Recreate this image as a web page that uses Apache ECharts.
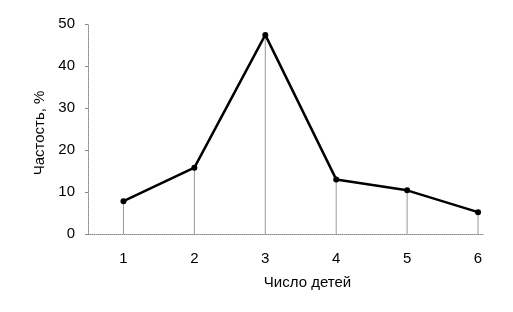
<!DOCTYPE html>
<html><head><meta charset="utf-8">
<script src="https://cdn.jsdelivr.net/npm/echarts@6/dist/echarts.min.js"></script>
<style>html,body{margin:0;padding:0;background:#fff}#c{width:513px;height:312px}</style>
</head><body><div id="c"></div>
<script>
const categories = [1, 2, 3, 4, 5, 6];
const frequency = [7.8, 15.8, 47.4, 13.0, 10.4, 5.2];
const yTicks = [0, 10, 20, 30, 40, 50];

const pts = categories.map((c, i) => [c, frequency[i]]);
const font = 'Liberation Sans, Arial, sans-serif';
const chart = echarts.init(document.getElementById('c'));
chart.setOption({
  animation: false,
  grid: {left: 88, right: 30, top: 24, bottom: 78},
  xAxis: {
    type: 'value', min: 0.5, max: 6.07, interval: 0.5,
    name: 'Число детей', nameLocation: 'middle', nameGap: 41,
    nameTextStyle: {color: '#000', fontFamily: font, fontSize: 15, padding: [0, 0, 0, 44]},
    axisLine: {show: true, lineStyle: {color: '#888', type: 'dotted', width: 1}},
    axisTick: {show: false},
    splitLine: {show: false},
    axisLabel: {color: '#000', fontFamily: font, fontSize: 15, margin: 17, showMinLabel: true, showMaxLabel: false,
      formatter: v => categories.includes(v) ? String(v) : ''}
  },
  yAxis: {
    type: 'value', min: yTicks[0], max: yTicks[yTicks.length - 1], interval: 10,
    name: 'Частость, %', nameLocation: 'middle', nameGap: 34,
    nameTextStyle: {color: '#000', fontFamily: font, fontSize: 15, padding: [0, 8, 0, 0]},
    axisLine: {show: true, lineStyle: {color: '#888', type: 'dotted', width: 1}},
    axisTick: {show: true, length: 3, lineStyle: {color: '#888'}},
    splitLine: {show: false},
    axisLabel: {color: '#000', fontFamily: font, fontSize: 15, margin: 13}
  },
  series: [
    {type: 'bar', data: pts, barWidth: 1, itemStyle: {color: '#999'}, z: 1},
    {type: 'line', data: pts, symbol: 'circle', symbolSize: 6,
     lineStyle: {color: '#000', width: 2.5}, itemStyle: {color: '#000'}, z: 3}
  ]
});
</script></body></html>
